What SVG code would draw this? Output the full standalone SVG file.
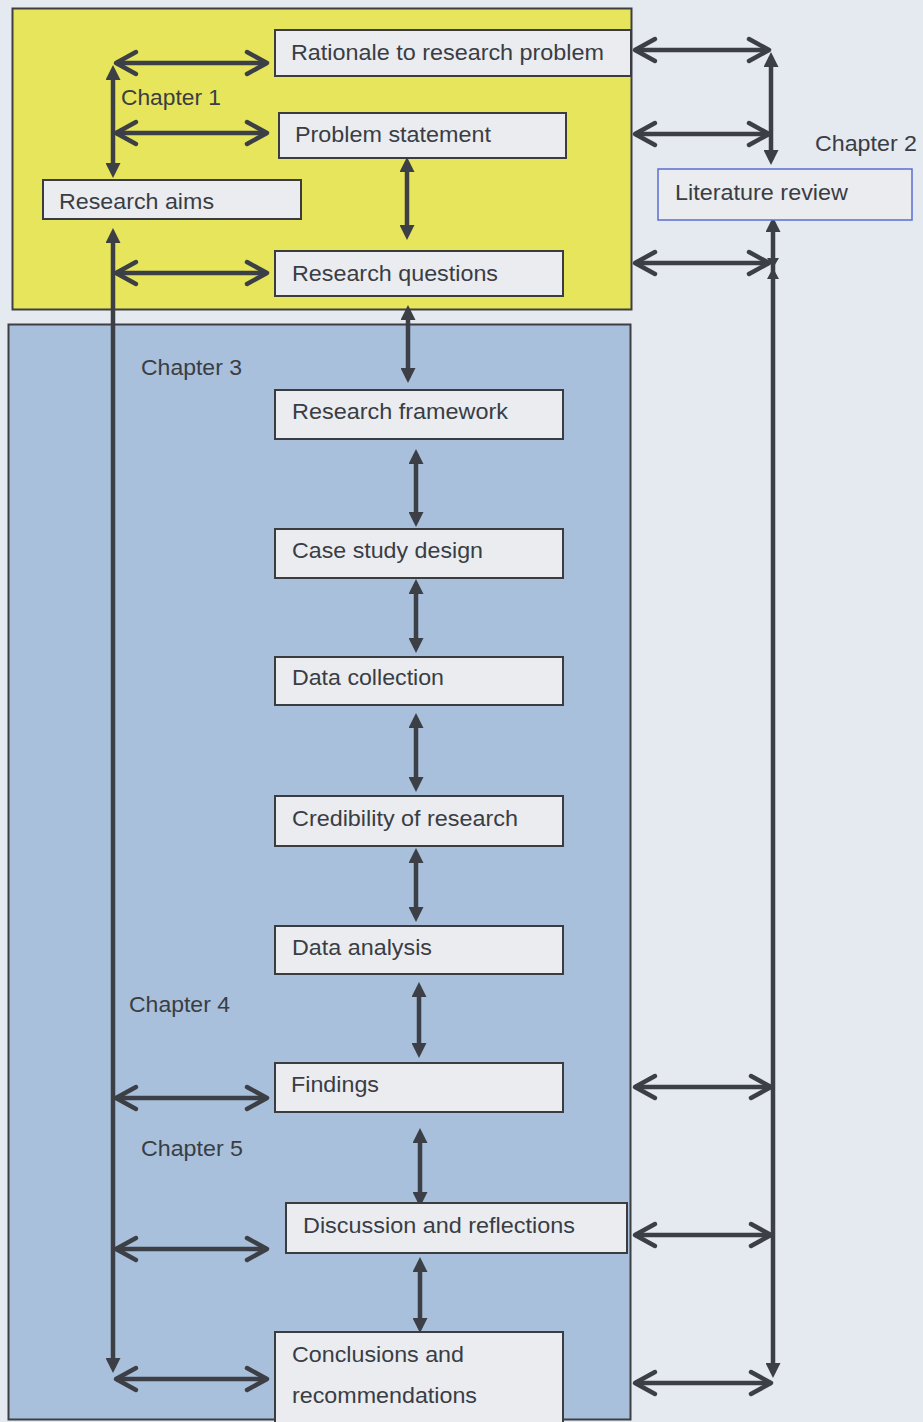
<svg xmlns="http://www.w3.org/2000/svg" width="923" height="1422" viewBox="0 0 923 1422">
  <style>
    .panel { stroke: #3d3f44; stroke-width: 2; }
    .node rect { fill: #eaecf0; stroke: #3a3c40; stroke-width: 2; }
    #lit rect { stroke: #5a6ed0; stroke-width: 1.5; }
    text { font-family: "Liberation Sans", Arial, sans-serif; font-size: 22px; fill: #3a3d44; }
    .link { stroke: #3c3f45; stroke-width: 4.5; fill: none; }
    .v { marker-start: url(#tri); marker-end: url(#tri); }
    .h { marker-start: url(#chev); marker-end: url(#chev); }
  </style>
  <defs>
    <!-- solid head for vertical links -->
    <marker id="tri" markerUnits="userSpaceOnUse" viewBox="0 0 15 15" markerWidth="15" markerHeight="15" refX="10" refY="7.5" orient="auto-start-reverse">
      <path d="M0,0 L15,7.5 L0,15 z" fill="#3c3f45"/>
    </marker>
    <!-- open chevron head for horizontal links -->
    <marker id="chev" markerUnits="userSpaceOnUse" viewBox="-4 -4 28 30" markerWidth="28" markerHeight="30" refX="20" refY="11" orient="auto-start-reverse">
      <path d="M0,0 L20,11 L0,22" fill="none" stroke="#3c3f45" stroke-width="4.5" stroke-linecap="round" stroke-linejoin="round"/>
    </marker>
  </defs>

  <!-- page -->
  <rect x="0" y="0" width="923" height="1422" fill="#e5e9f0"/>

  <!-- chapter panels -->
  <rect id="chapter1-panel" class="panel" x="12.5" y="8.5" width="619" height="301" fill="#e6e55c"/>
  <rect id="chapter3-panel" class="panel" x="8.5" y="324.5" width="622" height="1095" fill="#a8c0db"/>

  <!-- chapter labels -->
  <g id="labels">
    <text x="121" y="105" textLength="100" lengthAdjust="spacingAndGlyphs">Chapter 1</text>
    <text x="815" y="151" textLength="102" lengthAdjust="spacingAndGlyphs">Chapter 2</text>
    <text x="141" y="375" textLength="101" lengthAdjust="spacingAndGlyphs">Chapter 3</text>
    <text x="129" y="1012" textLength="101" lengthAdjust="spacingAndGlyphs">Chapter 4</text>
    <text x="141" y="1156" textLength="102" lengthAdjust="spacingAndGlyphs">Chapter 5</text>
  </g>

  <!-- connectors -->
  <g id="connectors">
    <!-- left spine -->
    <line class="link v" x1="113" y1="70" x2="113" y2="173"/>
    <line class="link v" x1="113" y1="233" x2="113" y2="1368"/>
    <!-- right spine -->
    <line class="link v" x1="771" y1="57" x2="771" y2="160"/>
    <line class="link v" x1="773" y1="222" x2="773" y2="1373"/>
    <path d="M767,258 L779,258 L773,268 z M767,279 L779,279 L773,268 z" fill="#3c3f45"/>

    <!-- left spine to boxes -->
    <line class="link h" x1="116" y1="63" x2="267" y2="63"/>
    <line class="link h" x1="116" y1="133" x2="267" y2="133"/>
    <line class="link h" x1="116" y1="273" x2="267" y2="273"/>
    <line class="link h" x1="116" y1="1098" x2="267" y2="1098"/>
    <line class="link h" x1="116" y1="1249" x2="267" y2="1249"/>
    <line class="link h" x1="116" y1="1379" x2="267" y2="1379"/>

    <!-- boxes to right spine -->
    <line class="link h" x1="635" y1="50" x2="769" y2="50"/>
    <line class="link h" x1="635" y1="134" x2="769" y2="134"/>
    <line class="link h" x1="635" y1="263" x2="769" y2="263"/>
    <line class="link h" x1="635" y1="1087" x2="771" y2="1087"/>
    <line class="link h" x1="635" y1="1235" x2="771" y2="1235"/>
    <line class="link h" x1="635" y1="1383" x2="771" y2="1383"/>

    <!-- main column -->
    <line class="link v" x1="407" y1="162" x2="407" y2="235"/>
    <line class="link v" x1="408" y1="310" x2="408" y2="378"/>
    <line class="link v" x1="416" y1="454" x2="416" y2="522"/>
    <line class="link v" x1="416" y1="584" x2="416" y2="648"/>
    <line class="link v" x1="416" y1="718" x2="416" y2="787"/>
    <line class="link v" x1="416" y1="853" x2="416" y2="917"/>
    <line class="link v" x1="419" y1="987" x2="419" y2="1053"/>
    <line class="link v" x1="420" y1="1133" x2="420" y2="1202"/>
    <line class="link v" x1="420" y1="1262" x2="420" y2="1328"/>
  </g>

  <!-- nodes -->
  <g id="rationale" class="node">
    <rect x="275" y="30" width="356" height="46"/>
    <text x="291" y="60" textLength="313" lengthAdjust="spacingAndGlyphs">Rationale to research problem</text>
  </g>
  <g id="problem" class="node">
    <rect x="279" y="113" width="287" height="45"/>
    <text x="295" y="142" textLength="196" lengthAdjust="spacingAndGlyphs">Problem statement</text>
  </g>
  <g id="aims" class="node">
    <rect x="43" y="180" width="258" height="39"/>
    <text x="59" y="209" textLength="155" lengthAdjust="spacingAndGlyphs">Research aims</text>
  </g>
  <g id="questions" class="node">
    <rect x="275" y="251" width="288" height="45"/>
    <text x="292" y="281" textLength="206" lengthAdjust="spacingAndGlyphs">Research questions</text>
  </g>
  <g id="lit" class="node">
    <rect x="658" y="169" width="254" height="51"/>
    <text x="675" y="200" textLength="173" lengthAdjust="spacingAndGlyphs">Literature review</text>
  </g>
  <g id="framework" class="node">
    <rect x="275" y="390" width="288" height="49"/>
    <text x="292" y="419" textLength="216" lengthAdjust="spacingAndGlyphs">Research framework</text>
  </g>
  <g id="case-study" class="node">
    <rect x="275" y="529" width="288" height="49"/>
    <text x="292" y="558" textLength="191" lengthAdjust="spacingAndGlyphs">Case study design</text>
  </g>
  <g id="data-collection" class="node">
    <rect x="275" y="657" width="288" height="48"/>
    <text x="292" y="685" textLength="152" lengthAdjust="spacingAndGlyphs">Data collection</text>
  </g>
  <g id="credibility" class="node">
    <rect x="275" y="796" width="288" height="50"/>
    <text x="292" y="826" textLength="226" lengthAdjust="spacingAndGlyphs">Credibility of research</text>
  </g>
  <g id="analysis" class="node">
    <rect x="275" y="926" width="288" height="48"/>
    <text x="292" y="955" textLength="140" lengthAdjust="spacingAndGlyphs">Data analysis</text>
  </g>
  <g id="findings" class="node">
    <rect x="275" y="1063" width="288" height="49"/>
    <text x="291" y="1092" textLength="88" lengthAdjust="spacingAndGlyphs">Findings</text>
  </g>
  <g id="discussion" class="node">
    <rect x="286" y="1203" width="341" height="50"/>
    <text x="303" y="1233" textLength="272" lengthAdjust="spacingAndGlyphs">Discussion and reflections</text>
  </g>
  <g id="conclusions" class="node">
    <rect x="275" y="1332" width="288" height="100"/>
    <text x="292" y="1362" textLength="172" lengthAdjust="spacingAndGlyphs">Conclusions and</text>
    <text x="292" y="1403" textLength="185" lengthAdjust="spacingAndGlyphs">recommendations</text>
  </g>
</svg>
